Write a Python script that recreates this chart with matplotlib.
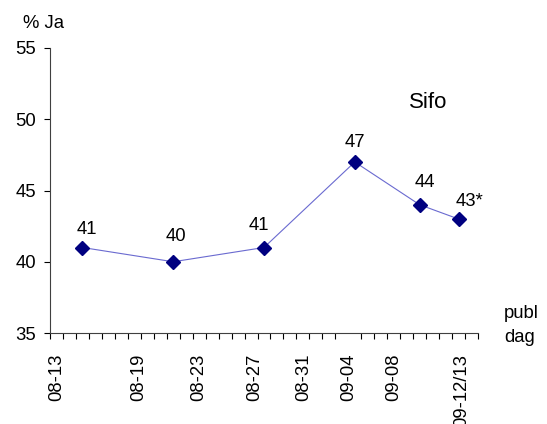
import matplotlib
matplotlib.use('Agg')
import matplotlib.pyplot as plt

plt.rcParams['font.family'] = ['Liberation Sans', 'DejaVu Sans']

# data: day index (0 = 08-12), point sits in middle of its day slot
days = [2, 9, 16, 23, 28, 31]
values = [41, 40, 41, 47, 44, 43]
point_labels = ['41', '40', '41', '47', '44', '43*']

date_labels = ['08-13', '08-19', '08-23', '08-27', '08-31', '09-04', '09-08', '09-12/13']
date_label_pos = [0.54, 6.85, 11.47, 15.8, 19.6, 23.0, 26.5, 31.77]
n_days = 33

# label offsets in pixels (x shift, height of baseline above the point)
label_dx = [4, 3, -5, 0, 5, 11]
label_dy = [13, 21, 17, 15, 18, 13]

FS = 13.3

fig = plt.figure(figsize=(5.47, 4.24), dpi=100)
ax = fig.add_axes([50 / 547, 1 - 333 / 424, 428 / 547, 285 / 424])

xs = [d + 0.5 for d in days]
ax.plot(xs, values, color='#6a6ad0', lw=0.8, zorder=2)
ax.plot(xs, values, ls='none', marker='D', ms=7.5, color='#000080',
        markeredgecolor='#000080', zorder=3)

for x, v, t, dx, dy in zip(xs, values, point_labels, label_dx, label_dy):
    ax.annotate(t, (x, v), xytext=(dx, dy), textcoords='offset pixels',
                ha='center', va='baseline', fontsize=FS, color='black')

ax.set_xlim(0, n_days)
ax.set_ylim(35, 55)
ax.set_yticks([35, 40, 45, 50, 55])
ax.tick_params(axis='y', labelsize=FS, length=4, width=0.8, pad=6)

ax.set_xticks(range(n_days + 1), minor=True)
ax.set_xticks(date_label_pos)
ax.set_xticklabels(date_labels, rotation=90, va='top', ha='center', fontsize=FS)
ax.tick_params(axis='x', which='major', length=0, pad=15)
ax.tick_params(axis='x', which='minor', length=4, width=0.8)

for s in ['top', 'right']:
    ax.spines[s].set_visible(False)
for s in ['left', 'bottom']:
    ax.spines[s].set_color('#404040')
    ax.spines[s].set_linewidth(0.8)

fig.text(23 / 547, 1 - 23 / 424, '% Ja', fontsize=FS, ha='left', va='center')
fig.text(428 / 547, 1 - 102 / 424, 'Sifo', fontsize=16, ha='center', va='center')
fig.text(504 / 547, 1 - 313 / 424, 'publ', fontsize=FS, ha='left', va='center')
fig.text(504 / 547, 1 - 337 / 424, 'dag', fontsize=FS, ha='left', va='center')

fig.savefig('out.png', dpi=100, facecolor='white')
